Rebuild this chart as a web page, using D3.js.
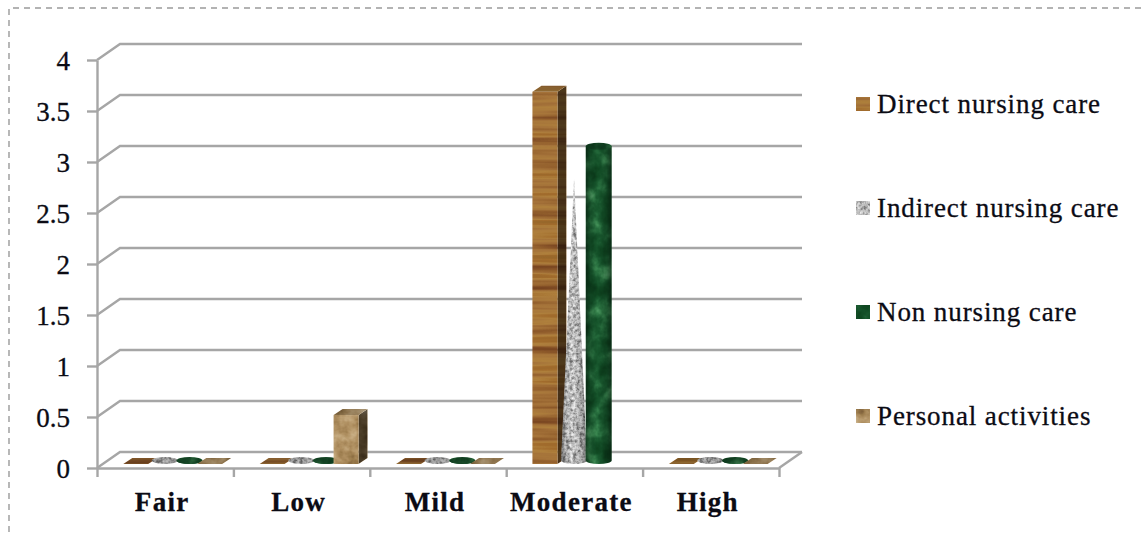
<!DOCTYPE html>
<html>
<head>
<meta charset="utf-8">
<script src="https://cdn.jsdelivr.net/npm/d3@7"></script>
<style>
  html, body { margin: 0; padding: 0; background: #fff; overflow: hidden; }
  svg { display: block; }
  text { font-family: "Liberation Serif", "Times New Roman", serif; fill: #0b0b14; stroke: #0b0b14; stroke-width: 0.3px; }
  .axis path, .axis line, .grid { stroke: #a6a6a6; stroke-width: 2.4; fill: none; }
</style>
</head>
<body>
<svg id="chart" width="1141" height="536"></svg>
<script>
// Workload level categories and the four activity series (hours)
const categories = ["Fair", "Low", "Mild", "Moderate", "High"];
const seriesNames = ["Direct nursing care", "Indirect nursing care", "Non nursing care", "Personal activities"];
const directCare   = [0, 0, 0, 3.65, 0];
const indirectCare = [0, 0, 0, 2.8, 0];
const nonNursing   = [0, 0, 0, 3.08, 0];
const personal     = [0, 0.48, 0, null, 0];
const yTicks = [0, 0.5, 1, 1.5, 2, 2.5, 3, 3.5, 4];

const seriesValues = [directCare, indirectCare, nonNursing, personal];
const seriesShapes = ["box", "cone", "cylinder", "box"];
const seriesFills = ["wood", "granite", "marble", "sand"];

const W = 1141, H = 536;
const frontLeft = 97, frontRight = 779, yZero = 468, yTop = 60;
const wallDx = 23, wallDy = 16;        // oblique offset from the front plane to the back wall
const floorInset = 4;                  // marks stand slightly behind the front edge
const groupShift = 12, groupHalf = 49.3;
const boxFront = 25, boxDx = 9, boxDy = 6;
const roundW = 26, roundRy = 3.5;

const svg = d3.select("#chart");
const defs = svg.append("defs");

const x = d3.scaleBand().domain(categories).range([frontLeft, frontRight]);
const y = d3.scaleLinear().domain([0, 4]).range([yZero, yTop]);

// Procedural surface textures, multiplied over the shaded geometry
function texture(id, freq, octaves, seed, ramp) {
  const f = defs.append("filter").attr("id", id)
    .attr("filterUnits", "userSpaceOnUse")
    .attr("x", 0).attr("y", 0).attr("width", W).attr("height", H)
    .attr("color-interpolation-filters", "sRGB");
  f.append("feTurbulence").attr("type", "fractalNoise")
    .attr("baseFrequency", freq).attr("numOctaves", octaves).attr("seed", seed).attr("result", "noise");
  f.append("feColorMatrix").attr("in", "noise").attr("type", "matrix")
    .attr("values", "1 0 0 0 0  1 0 0 0 0  1 0 0 0 0  0 0 0 0 1").attr("result", "mono");
  const ct = f.append("feComponentTransfer").attr("in", "mono").attr("result", "tint");
  const channel = (tag, k) => ct.append(tag).attr("type", "table")
    .attr("tableValues", ramp.map(c => (d3.rgb(c)[k] / 255).toFixed(3)).join(" "));
  channel("feFuncR", "r"); channel("feFuncG", "g"); channel("feFuncB", "b");
  f.append("feBlend").attr("in", "tint").attr("in2", "SourceGraphic").attr("mode", "multiply").attr("result", "lit");
  f.append("feComposite").attr("in", "lit").attr("in2", "SourceAlpha").attr("operator", "in");
}
texture("wood", "0.004 0.11", 3, 7,
  ["#6a3a1c", "#6a3a1c", "#77431f", "#8a5428", "#9c6731", "#ab773c", "#b5853f", "#a8702f", "#9a6a2c", "#bb9540", "#bb9540"]);
texture("granite", "0.3", 3, 4,
  ["#6a6a6a", "#6a6a6a", "#808080", "#a2a2a2", "#c4c4c4", "#dedede", "#f2f2f2", "#fff", "#fff"]);
texture("marble", "0.06 0.05", 4, 11,
  ["#0c3d1c", "#0c3d1c", "#0f4621", "#135028", "#1a5b30", "#28703f", "#3c8a52", "#58a06c", "#58a06c"]);
texture("sand", "0.05 0.06", 4, 3,
  ["#6e4e2c", "#6e4e2c", "#86663f", "#a0804f", "#b59464", "#c6a87a", "#d4bb92", "#e2cfae", "#e2cfae"]);

// Horizontal shading used by the round marks
const shade = defs.append("linearGradient").attr("id", "roundShade");
[[0, "#8e8e8e"], [0.18, "#dcdcdc"], [0.45, "#ffffff"], [0.8, "#d0d0d0"], [1, "#7d7d7d"]]
  .forEach(([o, c]) => shade.append("stop").attr("offset", o).attr("stop-color", c));

// Dashed frame: it runs along the top and down the left side only
svg.append("path").attr("d", `M${W},8H9V${H}`)
  .attr("fill", "none").attr("stroke", "#9a9a9a").attr("stroke-width", 1.4).attr("stroke-dasharray", "6 5");

// Back wall gridlines with their oblique return to the front plane
svg.append("g").selectAll("path").data(yTicks).join("path")
  .attr("class", "grid")
  .attr("d", d => d3.line()([
    [frontLeft, y(d)],
    [frontLeft + wallDx, y(d) - wallDy],
    [frontRight + wallDx, y(d) - wallDy]
  ]));
svg.append("path").attr("class", "grid")
  .attr("d", d3.line()([[frontRight, yZero], [frontRight + wallDx, yZero - wallDy]]));

// Axes
const yAxis = svg.append("g").attr("class", "axis").attr("transform", `translate(${frontLeft},0)`)
  .call(d3.axisLeft(y).tickValues(yTicks).tickFormat(d3.format("~g")).tickSize(10).tickSizeOuter(0));
yAxis.selectAll("text")
  .attr("x", -27).attr("dy", "0.35em")
  .attr("text-anchor", "end").style("font-size", "27px").style("font-family", null);

const tickEdges = d3.range(categories.length + 1).map(i => frontLeft + i * x.step());
const edgeScale = d3.scaleLinear().domain([frontLeft, frontRight]).range([frontLeft, frontRight]);
svg.append("g").attr("class", "axis").attr("transform", `translate(0,${yZero})`)
  .call(d3.axisBottom(edgeScale).tickValues(tickEdges).tickFormat("").tickSize(9).tickSizeOuter(0));

const catAxis = svg.append("g").attr("transform", `translate(0,${yZero})`)
  .call(d3.axisBottom(x).tickSize(0));
catAxis.select(".domain").remove();
catAxis.selectAll("text")
  .attr("x", -3).attr("y", 43).attr("dy", 0)
  .style("font-size", "27px").style("font-weight", "bold").style("letter-spacing", "1.3px")
  .style("font-family", null);

// Bars: box, cone and cylinder marks sized from the value scale
const baseY = yZero - floorInset;
const marks = svg.append("g");

function drawBox(g, cx, h) {
  const l = cx - 17, r = l + boxFront, top = baseY - h;
  g.append("path").attr("fill", "#6e6e6e")
    .attr("d", d3.line()([[r, baseY], [r + boxDx, baseY - boxDy], [r + boxDx, top - boxDy], [r, top]]));
  g.append("rect").attr("x", l).attr("y", top).attr("width", boxFront).attr("height", h).attr("fill", "#f6f6f6");
  g.append("path").attr("fill", "#c8c8c8")
    .attr("d", d3.line()([[l, top], [l + boxDx, top - boxDy], [r + boxDx, top - boxDy], [r, top]]));
}
function drawCylinder(g, cx, h) {
  const rx = roundW / 2, cy = baseY - roundRy, top = cy - h;
  g.append("path").attr("fill", "url(#roundShade)")
    .attr("d", `M${cx - rx},${top}V${cy}A${rx},${roundRy} 0 0 0 ${cx + rx},${cy}V${top}Z`);
  g.append("ellipse").attr("cx", cx).attr("cy", top).attr("rx", rx).attr("ry", roundRy).attr("fill", "#b8b8b8");
}
function drawCone(g, cx, h) {
  const rx = roundW / 2, cy = baseY - roundRy;
  if (h === 0) {
    g.append("ellipse").attr("cx", cx).attr("cy", cy).attr("rx", rx).attr("ry", roundRy).attr("fill", "#c4c4c4");
    return;
  }
  g.append("path").attr("fill", "url(#roundShade)")
    .attr("d", `M${cx - rx},${cy}L${cx},${baseY - h}L${cx + rx},${cy}A${rx},${roundRy} 0 0 1 ${cx - rx},${cy}Z`);
}
const painters = { box: drawBox, cone: drawCone, cylinder: drawCylinder };

categories.forEach((cat, ci) => {
  const centre = x(cat) + x.bandwidth() / 2 + groupShift;
  const slot = d3.scaleBand().domain(seriesNames).range([centre - groupHalf, centre + groupHalf]);
  seriesNames.forEach((name, si) => {
    const v = seriesValues[si][ci];
    if (v === null) return;
    const g = marks.append("g").attr("filter", `url(#${seriesFills[si]})`);
    painters[seriesShapes[si]](g, slot(name) + slot.bandwidth() / 2, y(0) - y(v));
  });
});

// Legend
const legendY = d3.scalePoint().domain(seriesNames).range([104, 416]);
const legend = svg.append("g");
legend.selectAll("rect").data(seriesNames).join("rect")
  .attr("x", 856).attr("y", d => legendY(d) - 7).attr("width", 14).attr("height", 14)
  .attr("fill", "#f4f4f4")
  .attr("filter", (d, i) => `url(#${seriesFills[i]})`);
legend.selectAll("text").data(seriesNames).join("text")
  .attr("x", 877).attr("y", d => legendY(d) + 9)
  .style("font-size", "27px").style("letter-spacing", "0.9px")
  .text(d => d);
</script>
</body>
</html>
